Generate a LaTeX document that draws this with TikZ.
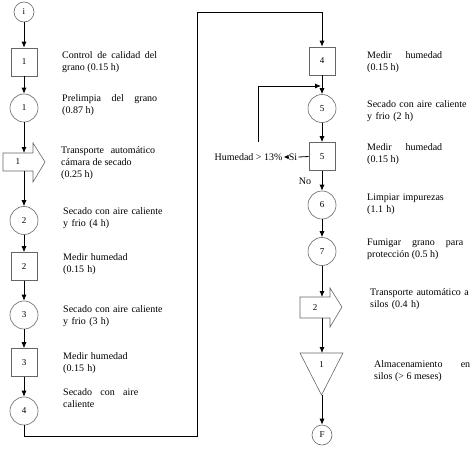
\documentclass[tikz,border=0pt]{standalone}
\usepackage{fontspec}
\setmainfont{Liberation Serif}
\usetikzlibrary{arrows.meta}
\begin{document}
\begin{tikzpicture}[x=1pt,y=-1pt,
  every node/.style={font=\fontsize{10}{12}\selectfont},
  shp/.style={draw=black!60, line width=0.6pt, inner sep=0pt, font=\fontsize{9}{10}\selectfont},
  proc/.style={shp, circle, minimum size=28pt},
  insp/.style={shp, rectangle, minimum width=26pt, minimum height=28pt},
  term/.style={shp, circle, minimum size=20pt},
  arr/.style={-{Latex[length=6pt,width=5pt]}, line width=0.8pt},
  ln/.style={line width=0.8pt},
  desc/.style={anchor=west, inner sep=0pt, align=left, text width=130pt},
  jdesc/.style={anchor=west, inner sep=0pt, align=justify, text width=#1},
  lbl/.style={inner sep=1pt}
]
\useasboundingbox (0,0) rectangle (474,448);

% left column
\node[term] (i) at (24,12) {i};
\node[insp] (b1) at (24,62) {1};
\node[proc] (c1) at (24,108) {1};
\draw[shp] (3,153) -- (33,153) -- (33,143) -- (45,162) -- (33,182) -- (33,171) -- (3,171) -- cycle;
\node[font=\fontsize{9}{10}\selectfont] (a1) at (18,162) {1};
\coordinate (p1top) at (24,153);
\coordinate (p1bot) at (24,171);
\node[proc] (c2) at (24,220.5) {2};
\node[insp] (b2) at (24,266.5) {2};
\node[proc] (c3) at (24,315) {3};
\node[insp] (b3) at (24,362.5) {3};
\node[proc] (c4) at (24,411) {4};

% right column
\node[insp] (b4) at (322,61) {4};
\node[proc] (c5) at (322,108.5) {5};
\node[insp] (b5) at (322,156.5) {5};
\node[proc] (c6) at (322,205) {6};
\node[proc] (c7) at (322,251.5) {7};
\draw[shp] (300,297) -- (330,297) -- (330,288) -- (342,307) -- (330,327) -- (330,318) -- (300,318) -- cycle;
\node[font=\fontsize{9}{10}\selectfont] (a2) at (315,308) {2};
\coordinate (p2top) at (322,297);
\coordinate (p2bot) at (322,318);
\draw[shp] (300,353) -- (343,353) -- (321.5,395) -- cycle;
\node[font=\fontsize{9}{10}\selectfont] (s1) at (321.5,365) {1};
\coordinate (t1top) at (322,353);
\coordinate (t1apex) at (322,395);
\node[term] (f) at (322,435) {F};

% connectors left
\draw[arr] (i) -- (b1);
\draw[arr] (b1) -- (c1);
\draw[arr] (c1) -- (p1top);
\draw[arr] (p1bot) -- (c2);
\draw[arr] (c2) -- (b2);
\draw[arr] (b2) -- (c3);
\draw[arr] (c3) -- (b3);
\draw[arr] (b3) -- (c4);
\coordinate (k1) at (24,436);
\coordinate (k2) at (197,436);
\coordinate (k3) at (197,12);
\draw[arr] (c4) -- (k1) -- (k2) -- (k3) -| (b4);

% connectors right
\draw[arr] (b4) -- (c5);
\draw[arr] (c5) -- (b5);
\draw[arr] (b5) -- (c6);
\node[lbl] (no) at (305,181) {No};
\draw[arr] (c6) -- (c7);
\draw[arr] (c7) -- (p2top);
\draw[arr] (p2bot) -- (t1top);
\draw[arr] (t1apex) -- (f);

% feedback
\node[lbl] (si) at (293,157) {Si};
\node[lbl] (hum) at (248.5,157) {Humedad > 13\%};
\draw[ln] (b5.west) -- (si.east);
\draw[-{Latex[length=5pt,width=4.5pt]}, line width=0.8pt] (si.west) -- (hum.east);
\coordinate (fbstart) at (258,142);
\coordinate (fbjoin) at (321,86);
\draw[arr] (fbstart) |- (fbjoin);

% descriptions
\node[jdesc=95pt] (t1) at (62,62.5) {Control de calidad del\linebreak grano (0.15 h)};
\node[jdesc=95pt] (t2) at (62,105) {Prelimpia del grano\linebreak (0.87 h)};
\node[jdesc=94pt] (t3) at (61,163) {Transporte automático\linebreak cámara de secado\\(0.25 h)};
\node[desc] (t4) at (63,218.5) {Secado con aire caliente\\y frio (4 h)};
\node[desc] (t5) at (63,264.5) {Medir humedad\\(0.15 h)};
\node[desc] (t6) at (63,316) {Secado con aire caliente\\y frio (3 h)};
\node[desc] (t7) at (63,363.5) {Medir humedad\\(0.15 h)};
\node[jdesc=75pt] (t8) at (63,398.5) {Secado con aire\linebreak caliente};
\node[jdesc=75pt] (t9) at (367,62) {Medir humedad\linebreak (0.15 h)};
\node[desc] (t10) at (367,111) {Secado con aire caliente\\y frio (2 h)};
\node[jdesc=75pt] (t11) at (367,154) {Medir humedad\linebreak (0.15 h)};
\node[desc] (t12) at (367,204.5) {Limpiar impurezas\\(1.1 h)};
\node[jdesc=96pt] (t13) at (367,249) {Fumigar grano para\linebreak protección (0.5 h)};
\node[desc] (t14) at (370,299.5) {Transporte automático a\\silos (0.4 h)};
\node[jdesc=96pt] (t15) at (374,371.5) {Almacenamiento en\linebreak silos (> 6 meses)};
\end{tikzpicture}
\end{document}
